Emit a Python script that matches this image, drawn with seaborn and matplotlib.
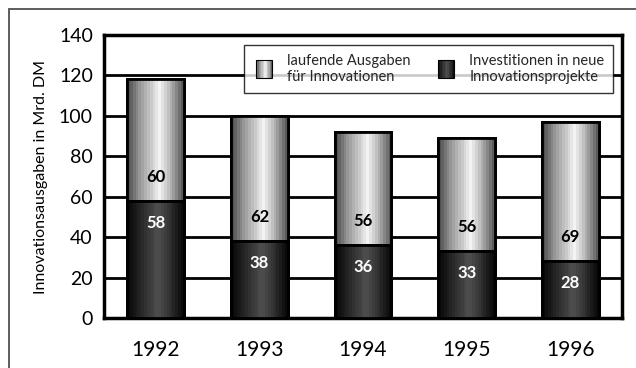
import numpy as np
import pandas as pd
import matplotlib
matplotlib.use("Agg")
import matplotlib.pyplot as plt
import seaborn as sns
from matplotlib.patches import Rectangle
from matplotlib.legend_handler import HandlerBase
from matplotlib.colors import LinearSegmentedColormap
import matplotlib.transforms as mtransforms

years = ["1992", "1993", "1994", "1995", "1996"]
investitionen = [58, 38, 36, 33, 28]
laufende = [60, 62, 56, 56, 69]
yticks = [0, 20, 40, 60, 80, 100, 120, 140]
ylabel = "Innovationsausgaben in Mrd. DM"
label_light = "laufende Ausgaben\nfür Innovationen"
label_dark = "Investitionen in neue\nInnovationsprojekte"

sns.set_theme(style="white")
plt.rcParams['font.family'] = ['Lato', 'DejaVu Sans']

df = pd.DataFrame({"Jahr": years, "Investitionen": investitionen, "laufende": laufende})
df["Gesamt"] = df["Investitionen"] + df["laufende"]

fig = plt.figure(figsize=(6.36, 3.68), dpi=100)
ax = fig.add_axes([104/636, 1-318/368, (622-104)/636, (318-35)/368])

light_cmap = LinearSegmentedColormap.from_list(
    "light", [(0, "#484848"), (0.2, "#909090"), (0.58, "#f4f4f4"), (0.82, "#a0a0a0"), (1, "#505050")])
dark_cmap = LinearSegmentedColormap.from_list(
    "dark", [(0, "#050505"), (0.3, "#2e2e2e"), (0.55, "#505050"), (0.8, "#2a2a2a"), (1, "#050505")])

sns.barplot(data=df, x="Jahr", y="Gesamt", color="#c0c0c0", width=0.55,
            edgecolor="black", linewidth=2, ax=ax, zorder=3)
n_light = len(ax.patches)
sns.barplot(data=df, x="Jahr", y="Investitionen", color="#303030", width=0.55,
            edgecolor="black", linewidth=2, ax=ax, zorder=4)

# banded gradient (stepped like the reference)
grad = (np.floor(np.linspace(0, 1, 256) * 20) / 20 + 0.025).reshape(1, -1)
for i, p in enumerate(ax.patches):
    cmap = light_cmap if i < n_light else dark_cmap
    x0 = p.get_x(); w = p.get_width(); h = p.get_height(); y0 = p.get_y()
    im = ax.imshow(grad, cmap=cmap, aspect="auto", extent=[x0, x0 + w, y0, y0 + h],
                   zorder=p.get_zorder() + 0.1, interpolation="nearest", vmin=0, vmax=1)
    im.set_clip_path(p)
    ax.add_patch(Rectangle((x0, y0), w, h, fill=False, edgecolor="black", linewidth=2,
                           zorder=p.get_zorder() + 0.2))

ax.set_xlim(-0.5, 4.5)
ax.set_ylim(0, 140)
ax.set_yticks(yticks)
ax.yaxis.grid(True, color="black", linewidth=2)
ax.set_axisbelow(True)
for s in ax.spines.values():
    s.set_color("black")
    s.set_linewidth(2.5)
ax.tick_params(axis="both", length=0, colors="black")
ax.tick_params(axis="x", pad=16, labelsize=15)
ax.tick_params(axis="y", pad=8, labelsize=14)
ax.set_xlabel("")
ax.set_ylabel(ylabel, fontsize=11.5, labelpad=8, color="black")

off_dn = mtransforms.offset_copy(ax.transData, fig=fig, x=0, y=-22, units="dots")
off_up = mtransforms.offset_copy(ax.transData, fig=fig, x=0, y=24, units="dots")
for i, (d, l) in enumerate(zip(investitionen, laufende)):
    ax.text(i, d, str(d), transform=off_dn, ha="center", va="center",
            color="white", fontsize=12, fontweight="bold", zorder=10)
    ax.text(i, d, str(l), transform=off_up, ha="center", va="center",
            color="black", fontsize=12, fontweight="bold", zorder=10)


class GradHandler(HandlerBase):
    def __init__(self, cmap):
        super().__init__()
        self.cmap = cmap

    def create_artists(self, legend, orig_handle, xdescent, ydescent, width, height, fontsize, trans):
        arts = []
        hw = 12; hh = 13
        x0 = (width - hw) / 2 - xdescent
        y0 = (height - hh) / 2 - ydescent
        n = 12
        for k in range(n):
            c = self.cmap((k + 0.5) / n)
            arts.append(Rectangle((x0 + k * hw / n, y0), hw / n, hh, facecolor=c,
                                  edgecolor="none", transform=trans))
        arts.append(Rectangle((x0, y0), hw, hh, fill=False, edgecolor="black", linewidth=0.8,
                              transform=trans))
        return arts


h_light = Rectangle((0, 0), 1, 1)
h_dark = Rectangle((0, 0), 1, 1)
leg = ax.legend([h_light, h_dark], [label_light, label_dark], ncol=2,
                handler_map={h_light: GradHandler(light_cmap), h_dark: GradHandler(dark_cmap)},
                loc="upper right", bbox_to_anchor=(0.983, 0.965), borderaxespad=0,
                fontsize=10.5, frameon=True, fancybox=False, borderpad=0.6,
                handlelength=1.6, handletextpad=0.8, columnspacing=1.6, labelspacing=0.25)
leg.get_frame().set_edgecolor("black")
leg.get_frame().set_linewidth(1.0)
leg.set_zorder(20)

fig.add_artist(Rectangle((9/636, -0.1), 1.2, 1 - 9/368 + 0.1, transform=fig.transFigure,
                         fill=False, edgecolor="#505050", linewidth=1.3))

fig.savefig("out.png", dpi=100)
